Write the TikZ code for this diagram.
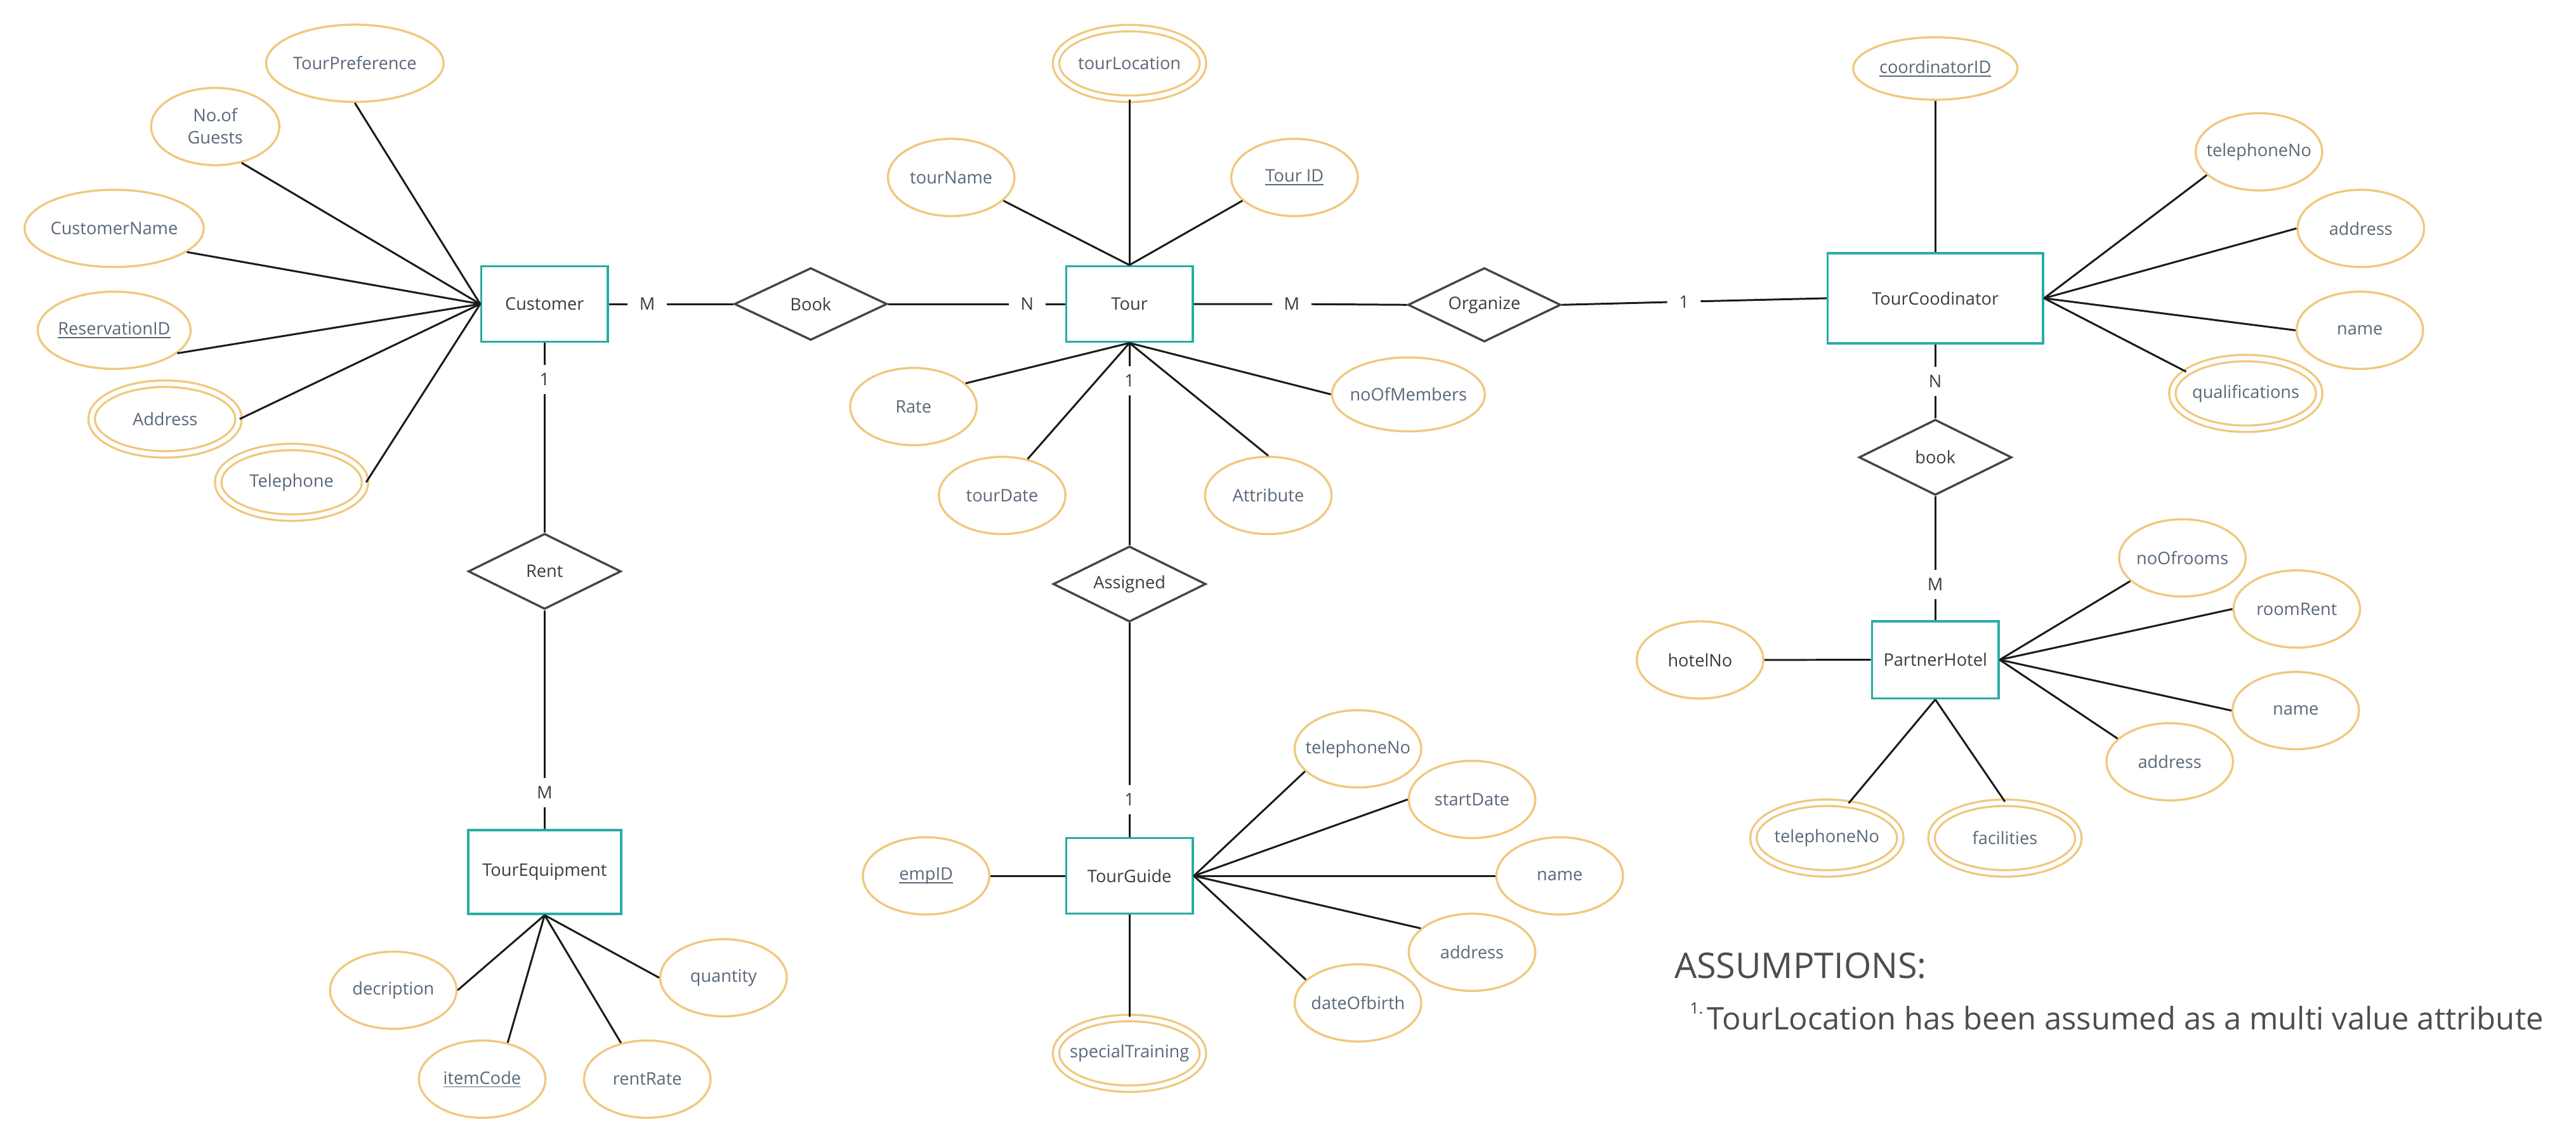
\documentclass[tikz,border=0pt]{standalone}
\usepackage{fontspec}
\setmainfont{Open Sans}
\usetikzlibrary{shapes.geometric,calc}
\definecolor{attrline}{HTML}{F0C87E}
\definecolor{entline}{HTML}{2AABA6}
\definecolor{relline}{HTML}{454545}
\definecolor{attrtext}{HTML}{5A6878}
\definecolor{enttext}{HTML}{3C3C3C}
\definecolor{connc}{HTML}{1A1A1A}
\definecolor{asmtext}{HTML}{4D4D4D}
\definecolor{asmnum}{HTML}{34405A}
\newlength\myulw
\newcommand\myul[1]{\settowidth\myulw{#1}\rlap{\rule[-2pt]{\myulw}{0.7pt}}#1}
\newcommand\at[1]{\makebox[0pt]{#1}}
\begin{document}
\begin{tikzpicture}[x=1pt,y=-1pt,
  attr/.style={ellipse, draw=attrline, line width=1.3pt, fill=white, inner sep=0pt,
    minimum width=77pt, minimum height=47pt, text=attrtext,
    font=\fontsize{10.5}{13.7}\selectfont},
  multi/.style={attr, double=white, double distance=2.6pt, minimum width=89.4pt, minimum height=43pt},
  entity/.style={rectangle, draw=entline, line width=1.4pt, fill=white, text=enttext,
    minimum width=77pt, minimum height=46pt, inner sep=0pt, font=\fontsize{10.5}{13}\selectfont},
  rel/.style={diamond, aspect=2, draw=relline, line width=1.3pt, fill=white, text=enttext,
    minimum width=93pt, minimum height=45pt, inner sep=0pt, font=\fontsize{10.5}{13}\selectfont},
  card/.style={fill=white, text=enttext, inner xsep=7pt, inner ysep=5pt,
    font=\fontsize{10.5}{13}\selectfont},
  conn/.style={draw=connc, line width=1.15pt},
]
\fill[white] (0,0) rectangle (1568,695.2);
\useasboundingbox (0,0) rectangle (1568,695.2);

% entities
\node[entity] (cust) at (331.5,185) {Customer};
\node[entity] (tour) at (687.5,185) {Tour};
\node[entity, minimum width=131pt, minimum height=55pt] (tc) at (1178,181.5) {TourCoodinator};
\node[entity, minimum width=93pt, minimum height=51pt] (te) at (331.5,530.7) {TourEquipment};
\node[entity] (tg) at (687.5,533) {TourGuide};
\node[entity, minimum height=47pt] (ph) at (1178,401.5) {PartnerHotel};

% relationships
\node[rel, minimum height=44pt] (bookR) at (493.5,185) {Book};
\node[rel] (org) at (903.5,185.5) {Organize};
\node[rel, minimum height=46pt] (rent) at (331.5,347.7) {Rent};
\node[rel, minimum height=46pt] (asg) at (687.5,355.4) {Assigned};
\node[rel, minimum height=46pt] (bk) at (1178,278.3) {book};

% customer attributes
\node[attr, minimum width=108pt] (tp) at (216,38.5) {\at{TourPreference}};
\node[attr, minimum width=78pt, text height=21.2pt, text depth=0pt] (ng) at (131,77)
  {\at{\begin{tabular}[b]{@{}c@{}}No.of\\Guests\end{tabular}}};
\node[attr, minimum width=109pt] (cn) at (69.5,139) {\at{CustomerName}};
\node[attr, minimum width=93pt] (rid) at (69.5,201) {\at{\myul{ReservationID}}};
\node[multi] (addr) at (100.5,255) {\at{Address}};
\node[multi] (tel) at (177.5,293.5) {\at{Telephone}};

% tour attributes
\node[multi] (tl) at (687.5,38.6) {\at{tourLocation}};
\node[attr] (tn) at (579,108) {\at{tourName}};
\node[attr] (tid) at (788,108) {\at{\myul{Tour ID}}};
\node[attr] (rate) at (556,247.4) {\at{Rate}};
\node[attr, minimum width=93pt, minimum height=45pt] (nom) at (857.3,240) {\at{noOfMembers}};
\node[attr] (td) at (610,301.5) {\at{tourDate}};
\node[attr] (attrb) at (772,301.5) {\at{Attribute}};

% tour coordinator attributes
\node[attr, minimum width=100pt, minimum height=38pt] (cid) at (1178,41.7) {\at{\myul{coordinatorID}}};
\node[attr] (tctel) at (1375,92.4) {\at{telephoneNo}};
\node[attr] (tcaddr) at (1437,139) {\at{address}};
\node[attr] (tcname) at (1436.4,201) {\at{name}};
\node[multi] (qual) at (1367,239.4) {\at{qualifications}};

% tour equipment attributes
\node[attr] (desc) at (239.4,602.6) {\at{decription}};
\node[attr] (ic) at (293.5,656.7) {\at{\myul{itemCode}}};
\node[attr] (rr) at (394,656.7) {\at{rentRate}};
\node[attr] (qty) at (440.4,595) {\at{quantity}};

% tour guide attributes
\node[attr] (emp) at (563.7,533) {\at{\myul{empID}}};
\node[multi] (st) at (687.5,641) {\at{specialTraining}};
\node[attr] (tgtel) at (826.6,455.7) {\at{telephoneNo}};
\node[attr] (sd) at (896,486.5) {\at{startDate}};
\node[attr] (tgname) at (949.4,533) {\at{name}};
\node[attr] (tgaddr) at (896,579.5) {\at{address}};
\node[attr] (dob) at (826.6,610.3) {\at{dateOfbirth}};

% partner hotel attributes
\node[attr, text=enttext] (hn) at (1034.8,401.6) {\at{hotelNo}};
\node[attr] (nor) at (1328.4,339.5) {\at{noOfrooms}};
\node[attr] (rre) at (1398,370.6) {\at{roomRent}};
\node[attr] (phname) at (1397.4,432.4) {\at{name}};
\node[attr] (phaddr) at (1320.7,463.6) {\at{address}};
\node[multi] (phtel) at (1112,510) {\at{telephoneNo}};
\node[multi] (fac) at (1220.4,510) {\at{facilities}};

% cardinality labels
\node[card] (c1) at (394,185) {M};
\node[card] (c2) at (625.2,185) {N};
\node[card] (c3) at (786.3,185) {M};
\node[card] (c4) at (1025,183.6) {1};
\node[card] (c5) at (331.5,231) {1};
\node[card] (c6) at (331.5,482.3) {M};
\node[card] (c7) at (687.5,231.7) {1};
\node[card] (c8) at (687.5,486.7) {1};
\node[card] (c9) at (1178,232) {N};
\node[card] (c10) at (1178,355.7) {M};

% relationship connectors
\draw[conn] (cust.east) -- (c1) -- (bookR.west);
\draw[conn] (bookR.east) -- (c2) -- (tour.west);
\draw[conn] (tour.east) -- (c3) -- (org.west);
\draw[conn] (org.east) -- (c4) -- (tc.west);
\draw[conn] (cust.south) -- (c5) -- (rent.north);
\draw[conn] (rent.south) -- (c6) -- (te.north);
\draw[conn] (tour.south) -- (c7) -- (asg.north);
\draw[conn] (asg.south) -- (c8) -- (tg.north);
\draw[conn] (tc.south) -- (c9) -- (bk.north);
\draw[conn] (bk.south) -- (c10) -- (ph.north);

% attribute connectors
\draw[conn] (cust.west) -- (tp.south);
\draw[conn] (cust.west) -- (ng.-54);
\draw[conn] (cust.west) -- (cn.-18);
\draw[conn] (cust.west) -- (rid.-20);
\draw[conn] (cust.west) -- (addr.east);
\draw[conn] (cust.west) -- (tel.east);

\draw[conn] (tour.north) -- (tl.south);
\draw[conn] (tour.north) -- (tn.-24);
\draw[conn] (tour.north) -- (tid.204);
\draw[conn] (tour.south) -- (rate.24);
\draw[conn] (tour.south) -- (nom.west);
\draw[conn] (tour.south) -- (td.55);
\draw[conn] (tour.south) -- (attrb.north);

\draw[conn] (tc.north) -- (cid.south);
\draw[conn] (tc.east) -- (tctel.204);
\draw[conn] (tc.east) -- (tcaddr.west);
\draw[conn] (tc.east) -- (tcname.west);
\draw[conn] (tc.east) -- (qual.160);

\draw[conn] (te.south) -- (desc.east);
\draw[conn] (te.south) -- (ic.55);
\draw[conn] (te.south) -- (rr.126);
\draw[conn] (te.south) -- (qty.west);

\draw[conn] (tg.west) -- (emp.east);
\draw[conn] (tg.south) -- (st.north);
\draw[conn] (tg.east) -- (tgtel.203);
\draw[conn] (tg.east) -- (sd.west);
\draw[conn] (tg.east) -- (tgname.west);
\draw[conn] (tg.east) -- (tgaddr.155);
\draw[conn] (tg.east) -- (dob.156);

\draw[conn] (ph.west) -- (hn.east);
\draw[conn] (ph.east) -- (nor.204);
\draw[conn] (ph.east) -- (rre.west);
\draw[conn] (ph.east) -- (phname.west);
\draw[conn] (ph.east) -- (phaddr.156);
\draw[conn] (ph.south) -- (phtel.58);
\draw[conn] (ph.south) -- (fac.north);

% assumptions
\node[anchor=base west, inner sep=0pt, text=asmtext, font=\fontsize{21.5}{25}\selectfont] (asm) at (1019,595.2) {ASSUMPTIONS:};
\node[anchor=base west, inner sep=0pt, text=asmnum, font=\fontsize{9.5}{11}\selectfont] (asmn) at (1028.5,617) {1.};
\node[anchor=base west, inner sep=0pt, text=asmtext, font=\fontsize{18.9}{23}\selectfont] (asm1) at (1039,626.8) {TourLocation has been assumed as a multi value attribute};
\end{tikzpicture}
\end{document}
